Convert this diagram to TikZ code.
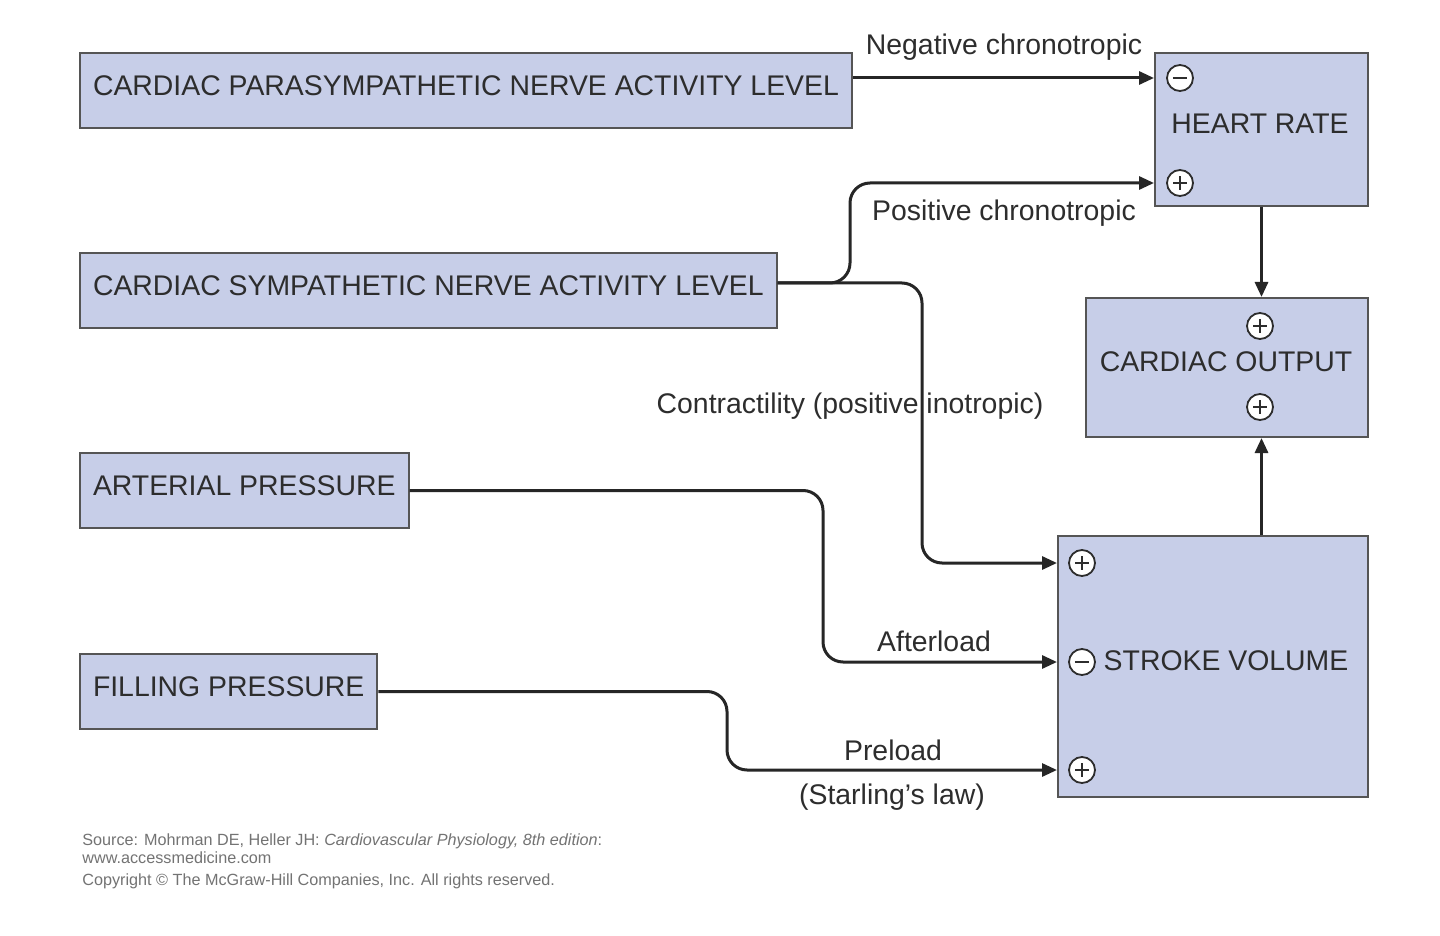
\documentclass[tikz,border=0pt]{standalone}
\usepackage{fontspec}
\setmainfont{Liberation Sans}
\usetikzlibrary{arrows.meta}
\definecolor{boxfill}{RGB}{199,206,232}
\definecolor{boxline}{RGB}{85,85,85}
\definecolor{ink}{RGB}{45,45,45}
\begin{document}
\begin{tikzpicture}[x=0.5pt,y=-0.5pt,
  box/.style={draw=boxline, line width=1pt, fill=boxfill, text=ink,
    font=\fontsize{14.2}{16}\selectfont, inner xsep=6.5pt, inner ysep=0pt,
    text depth=4.5pt, minimum height=37.5pt, anchor=north west},
  fixbox/.style={draw=boxline, line width=1pt, fill=boxfill, text=ink,
    inner sep=0pt, anchor=north west},
  signbase/.style={circle, draw=ink, fill=white, line width=0.9pt,
    minimum size=13pt, inner sep=0pt},
  minus/.style={signbase, path picture={
    \draw[ink, line width=0.8pt] ([xshift=-3.6pt]path picture bounding box.center) -- ([xshift=3.6pt]path picture bounding box.center);}},
  plus/.style={signbase, path picture={
    \draw[ink, line width=0.8pt] ([xshift=-3.4pt]path picture bounding box.center) -- ([xshift=3.4pt]path picture bounding box.center)
      ([yshift=-3.4pt]path picture bounding box.center) -- ([yshift=3.4pt]path picture bounding box.center);}},
  lbl/.style={text=ink, font=\fontsize{14.2}{16}\selectfont, inner sep=1pt},
  conn/.style={draw=black!85, line width=1.5pt, rounded corners=10pt,
    -{Triangle[length=7.5pt,width=6.5pt]}},
  foot/.style={text=black!55, font=\fontsize{8.1}{9}\selectfont, anchor=west, inner sep=0pt}]
\useasboundingbox[fill=white] (0,0) rectangle (1440,936);

% left boxes
\node[box] (para) at (79,52) {CARDIAC PARASYMPATHETIC NERVE ACTIVITY LEVEL};
\node[box] (symp) at (79,252) {CARDIAC SYMPATHETIC NERVE ACTIVITY LEVEL};
\node[box] (art) at (79,452) {ARTERIAL PRESSURE};
\node[box] (fillp) at (79,653) {FILLING PRESSURE};

% right boxes
\node[fixbox, minimum width=106.5pt, minimum height=76.5pt] (HR) at (1154,52) {};
\node[lbl] (hrtext) at (1260,124) {HEART RATE};
\node[fixbox, minimum width=141pt, minimum height=69.5pt] (CO) at (1085,297) {};
\node[lbl] (cotext) at (1226,362) {CARDIAC OUTPUT};
\node[fixbox, minimum width=155pt, minimum height=130.5pt] (SV) at (1057,535) {};
\node[lbl] (svtext) at (1226,661) {STROKE VOLUME};

% signs
\node[minus] (hrm) at (1180,78) {};
\node[plus] (hrp) at (1180,183) {};
\node[plus] (cop1) at (1260,326) {};
\node[plus] (cop2) at (1260,407) {};
\node[plus] (svp1) at (1082,563) {};
\node[minus] (svm) at (1082,662) {};
\node[plus] (svp2) at (1082,770) {};

% connectors
\draw[conn] (para.east |- hrm) -- (HR.west |- hrm);
\draw[conn] ([yshift=3.75pt]symp.east) -| (850,183) -- (HR.west |- hrp);
\draw[conn] ([yshift=3.75pt]symp.east) -| (922,563) -- (SV.west |- svp1);
\draw[conn] (art.east) -| (823,662) -- (SV.west |- svm);
\draw[conn] (fillp.east) -| (727,770) -- (SV.west |- svp2);
\draw[conn] (HR.south) -- (HR.south |- CO.north);
\draw[conn] (SV.north -| HR.south) -- (CO.south -| HR.south);

% connector labels
\node[lbl] (negchr) at (1004,47) {Negative chronotropic};
\node[lbl] (poschr) at (1004,213) {Positive chronotropic};
\node[lbl] (contr) at (850,406) {Contractility (positive inotropic)};
\node[lbl] (after) at (934,641) {Afterload};
\node[lbl] (preload) at (893,750) {Preload};
\node[lbl] (starling) at (892,797) {(Starling’s law)};

% footer
\node[foot] (src) at (82,841) {Source: Mohrman DE, Heller JH: \textit{Cardiovascular Physiology, 8th edition}:};
\node[foot] (www) at (82,858) {www.accessmedicine.com};
\node[foot] (copy) at (82,881) {Copyright © The McGraw-Hill Companies, Inc. All rights reserved.};
\end{tikzpicture}
\end{document}
